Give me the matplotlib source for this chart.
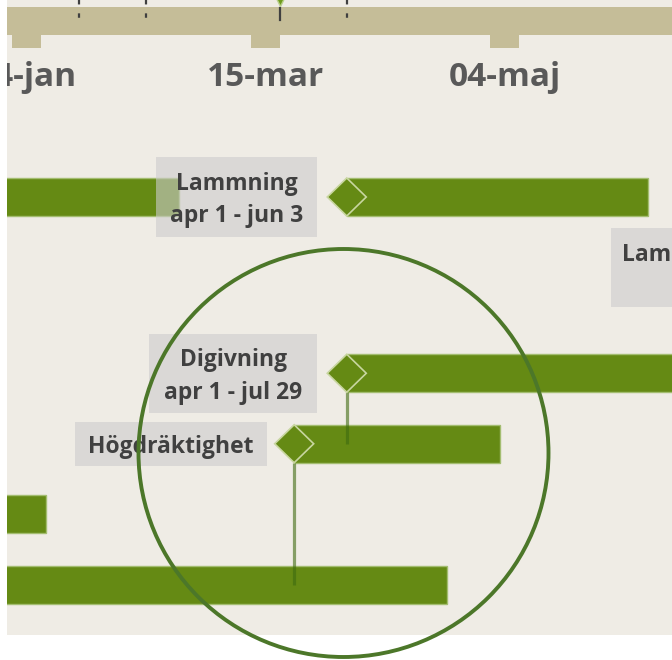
import numpy as np
import pandas as pd
import matplotlib
matplotlib.use("Agg")
import matplotlib.pyplot as plt
import matplotlib.dates as mdates
from matplotlib.patches import Rectangle, Polygon, Ellipse

plt.rcParams['font.family'] = ['Open Sans', 'DejaVu Sans']

# --- data -------------------------------------------------------------
# bars: lane, start, end
bar_lane = [0, 0, 2.5, 3.5, 4.5, 5.5]
bar_start = ['2019-01-01', '2019-04-01', '2019-04-01', '2019-03-21', '2019-01-01', '2019-01-01']
bar_end = ['2019-02-25', '2019-06-03', '2019-07-29', '2019-05-03', '2019-01-28', '2019-04-22']

# milestones (diamond + label box to the left)
ms_lane = [0, 2.5, 3.5]
ms_date = ['2019-04-01', '2019-04-01', '2019-03-21']
ms_label = ['Lammning\napr 1 - jun 3', 'Digivning\napr 1 - jul 29', 'Högdräktighet']

# dependency stems: date, from lane, to lane
dep_date = ['2019-04-01', '2019-03-21']
dep_from = [2.5, 3.5]
dep_to = [3.5, 5.5]

# timescale
tick_dates = ['2019-01-24', '2019-03-15', '2019-05-04']
tick_labels = ['24-jan', '15-mar', '04-maj']
mark_dates = ['2019-02-04', '2019-02-18', '2019-04-01']
today = '2019-03-18'

# --- layout -----------------------------------------------------------
PX_DAY = 4.78      # pixels per day
PX_LANE = 70.5     # pixels per lane
LANE0_PX = 197     # pixel row of lane 0
X0_PX = 265.5      # pixel column of 15-mar
TXT_DY = 3 / PX_LANE   # small downward nudge for text

GREEN = '#658A14'
EDGE = '#A3BD70'
BEIGE = '#EFECE5'
TAN = '#C5BD98'

def d(s):
    return mdates.date2num(pd.Timestamp(s))

base = d('2019-03-15')

def px_x(px):
    return base + (px - X0_PX) / PX_DAY

def px_y(px):
    return (px - LANE0_PX) / PX_LANE

fig = plt.figure(figsize=(6.72, 6.6), dpi=100, facecolor='white')
ax = fig.add_axes([7 / 672, 25 / 660, 665 / 672, 635 / 660])
ax.set_facecolor(BEIGE)
ax.set_xlim(px_x(7), px_x(672))
ax.set_ylim(px_y(635), px_y(0))
for s in ax.spines.values():
    s.set_visible(False)
ax.set_xticks([])
ax.set_yticks([])

# timescale band
ax.axhspan(px_y(7), px_y(35), color=TAN, zorder=1, lw=0)
for t in tick_dates:
    ax.add_patch(Rectangle((d(t) - 14.5 / PX_DAY, px_y(35)), 29 / PX_DAY, 13 / PX_LANE,
                           color=TAN, lw=0, zorder=1))
for t, lab in zip(tick_dates, tick_labels):
    ax.text(d(t), px_y(77), lab, ha='center', va='center', fontsize=24,
            fontweight='bold', color='#595959', clip_on=True, zorder=2)
for m in mark_dates:
    ax.plot([d(m), d(m)], [px_y(0), px_y(24)], color='#404040', lw=1.6,
            ls=(0, (2, 4)), zorder=2)
ax.plot([d(today), d(today)], [px_y(8), px_y(20)], color='#404040', lw=1.6, zorder=2)
ax.plot(d(today), px_y(1), marker='v', ms=7, color='#6E9B1C', mec='#B9CF8A',
        clip_on=False, zorder=3)

# bars
starts = np.array([d(s) for s in bar_start])
ends = np.array([d(s) for s in bar_end])
ax.barh(bar_lane, ends - starts, left=starts, height=38 / PX_LANE, color=GREEN,
        edgecolor=EDGE, linewidth=1, zorder=3)

# dependency stems
for dt, a, b in zip(dep_date, dep_from, dep_to):
    ax.plot([d(dt), d(dt)], [a + 19 / PX_LANE, b], color='#3E6B10', alpha=0.6,
            lw=2.3, solid_capstyle='butt', zorder=4)

# milestones and label boxes
hw, hh = 19.5 / PX_DAY, 19 / PX_LANE
box_w = [161, 168, 192]
box_h = [80, 79, 44]
box_gap = [29.5, 29.5, 27.5]
for lane, dt, lab, bw, bh, gap in zip(ms_lane, ms_date, ms_label, box_w, box_h, box_gap):
    x = d(dt)
    ax.add_patch(Polygon([(x - hw, lane), (x, lane - hh), (x + hw, lane), (x, lane + hh)],
                         closed=True, facecolor=GREEN, edgecolor='#C8D6A0', lw=1.2, zorder=5))
    right = x - gap / PX_DAY
    left = right - bw / PX_DAY
    ax.add_patch(Rectangle((left, lane - bh / 2 / PX_LANE), bw / PX_DAY, bh / PX_LANE,
                           facecolor='#CCCCCC', alpha=0.6, lw=0, zorder=6))
    ax.text((left + right) / 2, lane + TXT_DY, lab, ha='center', va='center', fontsize=16.5,
            fontweight='bold', color='#404040', linespacing=1.5, zorder=7)

# label box of the next row (its bar lies to the right of the view)
ax.add_patch(Rectangle((px_x(611), 1 - 40 / PX_LANE), 120 / PX_DAY, 79 / PX_LANE,
                       facecolor='#CCCCCC', alpha=0.6, lw=0, zorder=6))
ax.text(px_x(622), px_y(255), 'Lammning', ha='left', va='center', fontsize=16.5,
        fontweight='bold', color='#404040', zorder=7)

# highlight circle
ax.add_patch(Ellipse((px_x(343.5), px_y(453)), 2 * 205 / PX_DAY, 2 * 204 / PX_LANE,
                     fill=False, edgecolor='#4C7729', lw=2.8, clip_on=False, zorder=8))

fig.savefig('out.png', dpi=100, facecolor='white')
